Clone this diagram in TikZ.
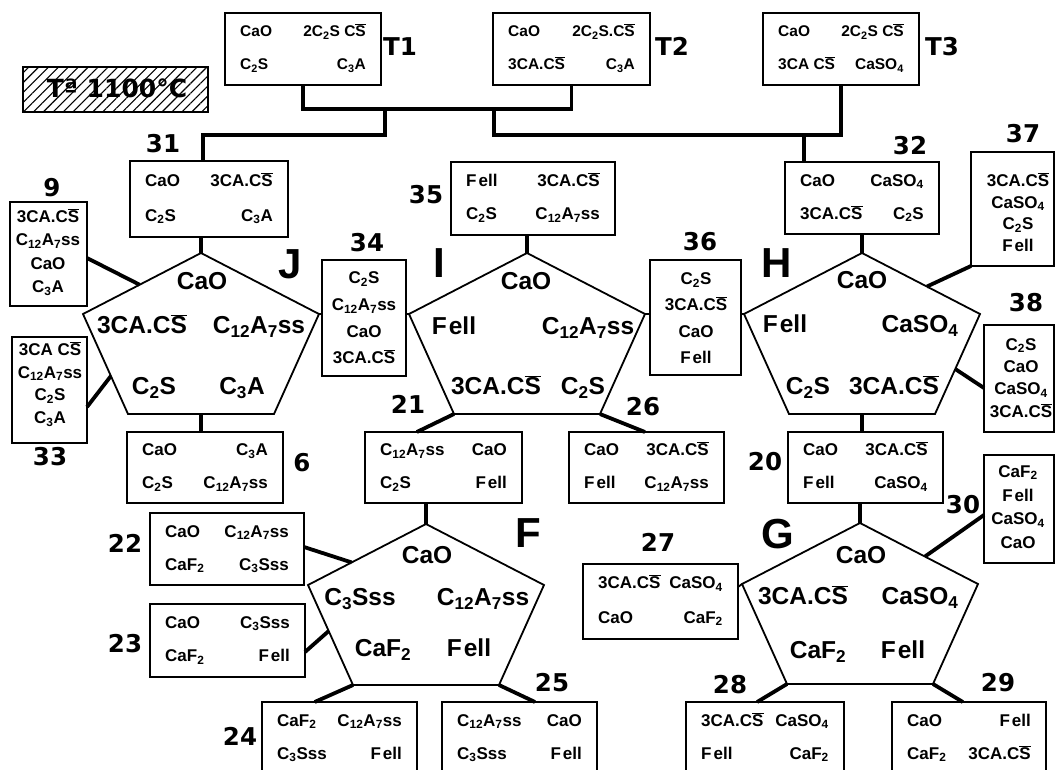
\documentclass[tikz,border=0pt]{standalone}
\usepackage{fontspec}
\setmainfont{Liberation Sans}
\newfontfamily\djfont{DejaVu Sans}
\usetikzlibrary{calc,patterns.meta}
\newcommand\Sb{$\overline{\mbox{S}}$}
\newcommand\sub[1]{\textsubscript{#1}}
\newcommand\Fe{F\kern2pt ell}
\newcommand\qbx[9]{%
  \node[bx,minimum width={(#4)-(#2)},minimum height={(#5)-(#3)}] (#1) at ({((#2)+(#4))/2},{((#3)+(#5))/2}) {};
  \node[qt,anchor=west] (#1a) at ({(#2)+15},{(#3)+0.25*((#5)-(#3))}) {#6};
  \node[qt,anchor=east] (#1b) at ({(#4)-15},{(#3)+0.25*((#5)-(#3))}) {#7};
  \node[qt,anchor=west] (#1c) at ({(#2)+15},{(#3)+0.71*((#5)-(#3))}) {#8};
  \node[qt,anchor=east] (#1d) at ({(#4)-15},{(#3)+0.71*((#5)-(#3))}) {#9};
}
\newcommand\vbx[9]{%
  \node[bx,minimum width={(#4)-(#2)},minimum height={(#5)-(#3)}] (#1) at ({((#2)+(#4))/2},{((#3)+(#5))/2}) {};
  \node[ml=#8] (#1t) at (#6,#7) {#9};
}
\newcommand\pent[3]{%
  \coordinate (#1-t) at (#2,#3);
  \coordinate (#1-l) at ({#2-118},{#3+61});
  \coordinate (#1-r) at ({#2+118},{#3+61});
  \coordinate (#1-bl) at ({#2-73},{#3+161});
  \coordinate (#1-br) at ({#2+73},{#3+161});
  \coordinate (#1-b) at (#2,{#3+161});
  \draw[pg] (#1-t) -- (#1-r) -- (#1-br) -- (#1-bl) -- (#1-l) -- cycle;
}
\begin{document}
\begin{tikzpicture}[x=1pt,y=-1pt,
  bx/.style={draw,line width=1.6pt,inner sep=0pt,outer sep=0pt},
  cn/.style={line width=3.8pt,line join=miter},
  pg/.style={line width=1.8pt,line join=miter},
  st/.style={font=\fontsize{17}{20}\selectfont\bfseries,inner sep=0pt,text height=12.2pt,text depth=0pt},
  qt/.style={st},
  tbox/.style={font=\fontsize{15.5}{18}\selectfont\bfseries,inner sep=0pt,text height=11.1pt,text depth=0pt},
  pt/.style={font=\fontsize{24.5}{29}\selectfont\bfseries,inner sep=0pt,text height=17.5pt,text depth=0pt},
  lb/.style={font=\fontsize{24.5}{30}\selectfont\djfont\bfseries,inner sep=0pt,text height=17.9pt,text depth=0pt},
  big/.style={font=\fontsize{42}{48}\selectfont\bfseries,inner sep=0pt,text height=30.1pt,text depth=0pt},
  ml/.style={font=\fontsize{17}{#1}\selectfont\bfseries,align=center,inner sep=0pt}]
\useasboundingbox (0,0) rectangle (1055,769);
\clip (0,0) rectangle (1055,769);
\fill[white] (0,0) rectangle (1055,769);

% temperature box
\node[bx,minimum width=185,minimum height=45,pattern={Lines[angle=45,distance=7pt,line width=1.1pt]}] (temp) at (115.5,89.5) {};
\node[font=\fontsize{25}{30}\selectfont\djfont\bfseries,inner sep=0pt,text height=18.2pt,text depth=0pt] (templ) at (117,88) {Tª 1100°C};

% top boxes
\begin{scope}[qt/.style={tbox}]
\qbx{T1}{225}{13}{381}{85}{CaO}{2C\sub2S C\Sb}{C\sub2S}{C\sub3A}
\qbx{T2}{493}{13}{650}{85}{CaO}{2C\sub2S.C\Sb}{3CA.C\Sb}{C\sub3A}
\qbx{T3}{763}{13}{919}{85}{CaO}{2C\sub2S C\Sb}{3CA C\Sb}{CaSO\sub4}
\end{scope}
\node[lb] (lT1) at (400,47) {T1};
\node[lb] (lT2) at (672,47) {T2};
\node[lb] (lT3) at (942,47) {T3};

% boxes
\qbx{b31}{130}{161}{288}{237}{CaO}{3CA.C\Sb}{C\sub2S}{C\sub3A}
\qbx{b35}{451}{162}{615}{235}{\Fe}{3CA.C\Sb}{C\sub2S}{C\sub{12}A\sub7ss}
\qbx{b32}{785}{162}{939}{234}{CaO}{CaSO\sub4}{3CA.C\Sb}{C\sub2S}
\qbx{b6}{127}{432}{283}{503}{CaO}{C\sub3A}{C\sub2S}{C\sub{12}A\sub7ss}
\qbx{b21}{365}{432}{522}{503}{C\sub{12}A\sub7ss}{CaO}{C\sub2S}{\Fe}
\qbx{b26}{569}{432}{724}{503}{CaO}{3CA.C\Sb}{\Fe}{C\sub{12}A\sub7ss}
\qbx{b20}{788}{432}{943}{503}{CaO}{3CA.C\Sb}{\Fe}{CaSO\sub4}
\qbx{b22}{150}{513}{304}{585}{CaO}{C\sub{12}A\sub7ss}{CaF\sub2}{C\sub3Sss}
\qbx{b23}{150}{604}{305}{677}{CaO}{C\sub3Sss}{CaF\sub2}{\Fe}
\qbx{b24}{262}{702}{417}{774}{CaF\sub2}{C\sub{12}A\sub7ss}{C\sub3Sss}{\Fe}
\qbx{b25}{442}{702}{597}{774}{C\sub{12}A\sub7ss}{CaO}{C\sub3Sss}{\Fe}
\qbx{b27}{583}{564}{738}{639}{3CA.C\Sb}{CaSO\sub4}{CaO}{CaF\sub2}
\qbx{b28}{686}{702}{844}{774}{3CA.C\Sb}{CaSO\sub4}{\Fe}{CaF\sub2}
\qbx{b29}{892}{702}{1046}{774}{CaO}{\Fe}{CaF\sub2}{3CA.C\Sb}

\vbx{b9}{10}{202}{87}{306}{48}{252}{23.3}{3CA.C\Sb\\C\sub{12}A\sub7ss\\CaO\\C\sub3A}
\vbx{b33}{12}{337}{87}{443}{50}{384}{22.7}{3CA C\Sb\\C\sub{12}A\sub7ss\\C\sub2S\\C\sub3A}
\vbx{b34}{322}{260}{406}{376}{364}{318}{26.7}{C\sub2S\\C\sub{12}A\sub7ss\\CaO\\3CA.C\Sb}
\vbx{b36}{650}{260}{741}{375}{696}{318}{26.3}{C\sub2S\\3CA.C\Sb\\CaO\\\Fe}
\vbx{b37}{971}{152}{1054}{266}{1018}{212}{21.7}{3CA.C\Sb\\CaSO\sub4\\C\sub2S\\\Fe}
\vbx{b38}{984}{325}{1054}{432}{1021}{378}{22.3}{C\sub2S\\CaO\\CaSO\sub4\\3CA.C\Sb}
\vbx{b30}{984}{455}{1054}{563}{1018}{507}{23.7}{CaF\sub2\\\Fe\\CaSO\sub4\\CaO}

% pentagons
\pent{J}{201}{253}
\pent{I}{527}{253}
\pent{H}{862}{253}
\pent{F}{426}{524}
\pent{G}{860}{523}

% pentagon texts
\node[pt] (J1) at (202,281) {CaO};
\node[pt] (J2) at (142,325) {3CA.C\Sb};
\node[pt] (J3) at (259,325) {C\sub{12}A\sub7ss};
\node[pt] (J4) at (154,386) {C\sub2S};
\node[pt] (J5) at (242,386) {C\sub3A};
\node[pt] (I1) at (526,281) {CaO};
\node[pt] (I2) at (454,326) {\Fe};
\node[pt] (I3) at (588,326) {C\sub{12}A\sub7ss};
\node[pt] (I4) at (496,386) {3CA.C\Sb};
\node[pt] (I5) at (583,386) {C\sub2S};
\node[pt] (H1) at (862,280) {CaO};
\node[pt] (H2) at (785,324) {\Fe};
\node[pt] (H3) at (920,324) {CaSO\sub4};
\node[pt] (H4) at (808,386) {C\sub2S};
\node[pt] (H5) at (894,386) {3CA.C\Sb};
\node[pt] (F1) at (427,555) {CaO};
\node[pt] (F2) at (360,597) {C\sub3Sss};
\node[pt] (F3) at (483,597) {C\sub{12}A\sub7ss};
\node[pt] (F4) at (383,648) {CaF\sub2};
\node[pt] (F5) at (469,648) {\Fe};
\node[pt] (G1) at (861,555) {CaO};
\node[pt] (G2) at (803,596) {3CA.C\Sb};
\node[pt] (G3) at (920,596) {CaSO\sub4};
\node[pt] (G4) at (818,650) {CaF\sub2};
\node[pt] (G5) at (903,650) {\Fe};

% big letters
\node[big] (LJ) at (290,263) {J};
\node[big] (LI) at (439,262) {I};
\node[big] (LH) at (777,262) {H};
\node[big] (LF) at (528,532) {F};
\node[big] (LG) at (778,533) {G};

% number labels
\node[lb] (n31) at (163,144) {31};
\node[lb] (n9) at (52,188) {9};
\node[lb] (n33) at (50,457) {33};
\node[lb] (n34) at (367,243) {34};
\node[lb] (n35) at (426,195) {35};
\node[lb] (n36) at (700,242) {36};
\node[lb] (n32) at (910,146) {32};
\node[lb] (n37) at (1023,134) {37};
\node[lb] (n38) at (1026,303) {38};
\node[lb] (n6) at (302,463) {6};
\node[lb] (n21) at (408,405) {21};
\node[lb] (n26) at (643,407) {26};
\node[lb] (n20) at (765,462) {20};
\node[lb] (n22) at (125,544) {22};
\node[lb] (n23) at (125,644) {23};
\node[lb] (n24) at (240,737) {24};
\node[lb] (n25) at (552,683) {25};
\node[lb] (n27) at (658,543) {27};
\node[lb] (n30) at (963,505) {30};
\node[lb] (n28) at (730,685) {28};
\node[lb] (n29) at (998,683) {29};

% top tree
\coordinate (j1) at (385,109);
\coordinate (j2) at (494,109);
\coordinate (j3) at (804,135);
\draw[cn] (T1.south) |- (T2.south |- j1) -- (T2.south);
\draw[cn] (j1) -- ++(0,26) -| ([xshift=-6pt]b31.north);
\draw[cn] (j2) -- ++(0,26) -| (T3.south);
\draw[cn] (j3) -- ([xshift=-58pt]b32.north);

% connectors
\draw[cn] (b31.south -| J-t) -- (J-t);
\draw[cn] (J-b) -- (b6.north -| J-b);
\draw[cn] ([yshift=-4pt]b9.east) -- ($(J-t)!0.52!(J-l)$);
\draw[cn] ([yshift=-17pt]b33.east) -- ($(J-l)!0.62!(J-bl)$);
\draw[pg] (J-r) -- (b34.west |- J-r);
\draw[pg] (b34.east |- I-l) -- (I-l);
\draw[cn] (b35.south -| I-t) -- (I-t);
\draw[cn] (I-bl) -- ($(b21.north west)!0.33!(b21.north east)$);
\draw[cn] (I-br) -- ($(b26.north west)!0.49!(b26.north east)$);
\draw[pg] (I-r) -- (b36.west |- I-r);
\draw[pg] (b36.east |- H-l) -- (H-l);
\draw[cn] (b32.south -| H-t) -- (H-t);
\draw[cn] (b37.south west) -- ($(H-t)!0.55!(H-r)$);
\draw[cn] ([yshift=-9.5pt]b38.west) -- ($(H-r)!0.55!(H-br)$);
\draw[cn] (H-b) -- (b20.north -| H-b);
\draw[cn] (b20.south -| G-t) -- (G-t);
\draw[cn] (b21.south -| F-t) -- (F-t);
\draw[cn] ([yshift=2pt]b22.east) -- ($(F-t)!0.63!(F-l)$);
\draw[cn] ([yshift=-11.5pt]b23.east) -- ($(F-l)!0.46!(F-bl)$);
\draw[cn] (F-bl) -- ($(b24.north west)!0.34!(b24.north east)$);
\draw[cn] (F-br) -- ($(b25.north west)!0.6!(b25.north east)$);
\draw[pg] ([yshift=-23pt]b27.north east) -- (G-l);
\draw[cn] ([yshift=-6pt]b30.west) -- ($(G-t)!0.55!(G-r)$);
\draw[cn] (G-bl) -- ($(b28.north west)!0.45!(b28.north east)$);
\draw[cn] (G-br) -- ($(b29.north west)!0.46!(b29.north east)$);
\end{tikzpicture}
\end{document}
